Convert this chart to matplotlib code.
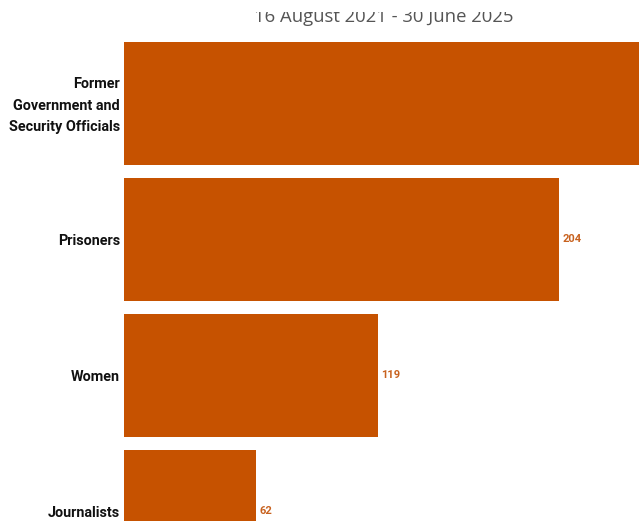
import numpy as np
import matplotlib
matplotlib.use('Agg')
import matplotlib.pyplot as plt
import matplotlib.transforms as mtransforms
from matplotlib.patches import Rectangle

# данные
categories = ['Former\nGovernment and\nSecurity Officials', 'Prisoners', 'Women', 'Journalists']
values     = [286, 204, 119, 62]   # первый столбец уходит за край кадра
value_lbls = ['286', '204', '119', '62']
subtitle   = '16 August 2021 - 30 June 2025'

BAR_COL   = '#c65200'
LABEL_COL = '#c8621f'
CAT_FONT  = ['Roboto', 'DejaVu Sans']

W, H = 639, 521
fig = plt.figure(figsize=(W/100, H/100), dpi=100)
fig.patch.set_facecolor('white')

# оси в пикселях: слева 124, до правого края
ax = fig.add_axes([124/W, 0, (W-124)/W, 1])
ax.set_facecolor('white')

ys = np.arange(len(categories))
ax.barh(ys, values, height=123/136, color=BAR_COL, edgecolor='none')

ax.set_xlim(0, (W-124)/2.133)
ax.set_ylim(-0.761 + H/136, -0.761)

for y, v, t in zip(ys, values, value_lbls):
    ax.annotate(t, (v, y), xytext=(2.3, 0), textcoords='offset points',
                va='center', ha='left', fontsize=8, fontweight='bold',
                color=LABEL_COL, family=CAT_FONT, annotation_clip=False)

ax.set_yticks(ys)
ax.set_yticklabels(categories, fontsize=10.4, fontweight='bold',
                   family=CAT_FONT, color='#111111', linespacing=1.68)
ax.tick_params(axis='y', length=0, pad=3)
ax.set_xticks([])
for s in ax.spines.values():
    s.set_visible(False)

# многострочную подпись чуть выше
lbl = ax.get_yticklabels()[0]
lbl.set_transform(lbl.get_transform() +
                  mtransforms.ScaledTranslation(0, 3/100, fig.dpi_scale_trans))

fig.text(384/W, 1 - 22/H, subtitle, ha='center', va='baseline',
         fontsize=13.3, color='#555555', family='Open Sans')
# верх подзаголовка срезан краем кадра
fig.patches.append(Rectangle((0, 1 - 12/H), 1, 12/H, transform=fig.transFigure,
                             facecolor='white', edgecolor='none', zorder=10))

fig.savefig('out.png', dpi=100)
